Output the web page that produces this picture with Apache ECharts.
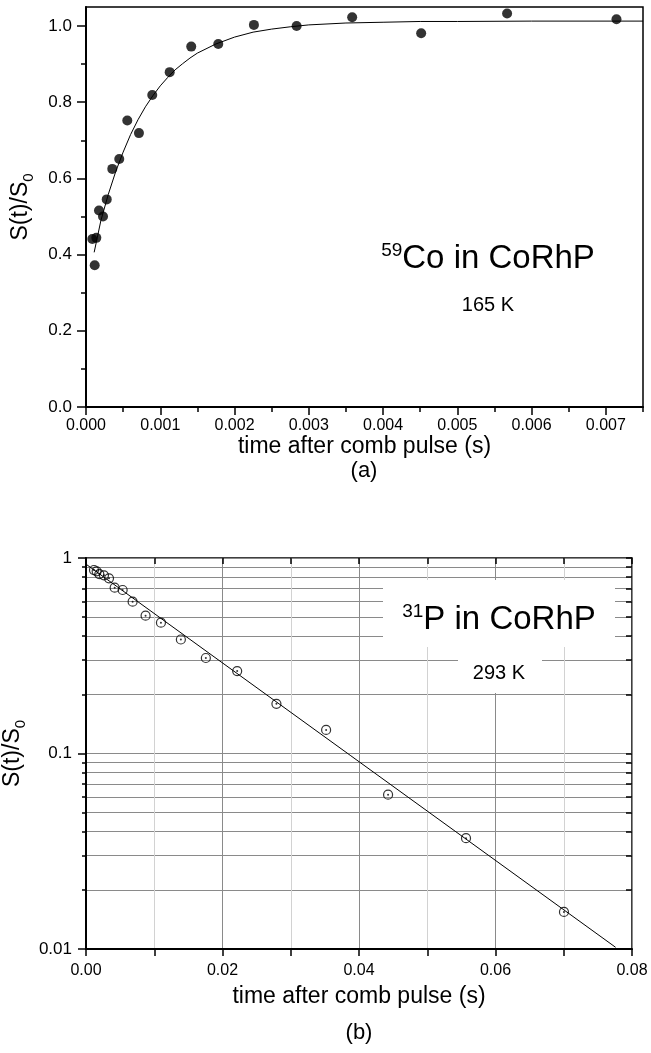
<!DOCTYPE html>
<html>
<head>
<meta charset="utf-8">
<script src="https://cdn.jsdelivr.net/npm/echarts@6/dist/echarts.min.js"></script>
<style>
  html, body { margin: 0; padding: 0; background: #fff; }
  #chart { width: 651px; height: 1053px; }
</style>
</head>
<body>
<div id="chart"></div>
<script>
// (a) 59Co in CoRhP, 165 K
const coTime = [0.000085, 0.000117, 0.000139, 0.000175, 0.000229, 0.000279, 0.000354, 0.000448, 0.000556, 0.000713,
  0.000892, 0.001127, 0.001417, 0.001781, 0.002261, 0.002836, 0.003584, 0.004513, 0.00567, 0.007143]
const coSignal = [0.441, 0.372, 0.444, 0.516, 0.500, 0.545, 0.625, 0.651, 0.752, 0.719,
  0.819, 0.879, 0.946, 0.953, 1.003, 1.000, 1.023, 0.981, 1.033, 1.018]
// fitted recovery curve
const coFitTime = [0.00011, 0.0002, 0.0003, 0.0004, 0.0005, 0.0006, 0.0007, 0.0008, 0.0009, 0.001,
  0.0011, 0.0012, 0.0013, 0.0014, 0.0015, 0.00175, 0.002, 0.00225, 0.0025, 0.00275,
  0.003, 0.0035, 0.004, 0.0045, 0.005, 0.006, 0.0075]
const coFitSignal = [0.406, 0.489, 0.558, 0.618, 0.669, 0.715, 0.754, 0.788, 0.817, 0.843,
  0.865, 0.885, 0.901, 0.916, 0.929, 0.953, 0.971, 0.984, 0.992, 0.998,
  1.003, 1.008, 1.010, 1.012, 1.012, 1.013, 1.013]

// (b) 31P in CoRhP, 293 K
const pTime = [0.00117, 0.00156, 0.00195, 0.00263, 0.00337, 0.0042, 0.00537, 0.00683, 0.00873, 0.01098,
  0.0139, 0.01756, 0.02215, 0.0279, 0.03518, 0.04426, 0.05568, 0.07003]
const pSignal = [0.868, 0.855, 0.828, 0.815, 0.787, 0.705, 0.686, 0.598, 0.507, 0.467,
  0.383, 0.308, 0.264, 0.1796, 0.132, 0.0616, 0.0369, 0.01547]
const pFitTime = [0, 0.0776]
const pFitSignal = [0.93, 0.0102]

// ticks
const coTimeTicks = [0, 0.001, 0.002, 0.003, 0.004, 0.005, 0.006, 0.007]
const coTimeMinor = [0.0005, 0.0015, 0.0025, 0.0035, 0.0045, 0.0055, 0.0065, 0.0075]
const coSignalTicks = [0, 0.2, 0.4, 0.6, 0.8, 1.0]
const coSignalMinor = [0.1, 0.3, 0.5, 0.7, 0.9]
const pTimeTicks = [0, 0.01, 0.02, 0.03, 0.04, 0.05, 0.06, 0.07, 0.08]
const pTimeLabels = [0, 0.02, 0.04, 0.06, 0.08]
const pSignalTicks = [0.01, 0.02, 0.03, 0.04, 0.05, 0.06, 0.07, 0.08, 0.09,
  0.1, 0.2, 0.3, 0.4, 0.5, 0.6, 0.7, 0.8, 0.9, 1]
const pSignalLabels = [0.01, 0.1, 1]

const FONT = '"Liberation Sans", Arial, sans-serif'
const zip = (xs, ys) => xs.map((x, i) => [x, ys[i]])

const blackLine = { show: true, onZero: false, lineStyle: { color: '#000', width: 2 } }
const noLine = { show: false, onZero: false }
const tickStyle = { color: '#000', width: 1.5 }
const yName = {
  name: '{n|S(t)/S}{s|0}',
  nameLocation: 'middle',
  nameRotate: 90,
  nameGap: 50,
  nameTextStyle: {
    color: '#000',
    fontFamily: FONT,
    rich: {
      n: { fontSize: 23, lineHeight: 30, fontFamily: FONT, color: '#000' },
      s: { fontSize: 15, lineHeight: 12, verticalAlign: 'bottom', fontFamily: FONT, color: '#000' },
    },
  },
}
const xName = (gap) => ({
  name: 'time after comb pulse (s)',
  nameLocation: 'middle',
  nameGap: gap,
  nameTextStyle: { fontSize: 23, color: '#000', fontFamily: FONT },
})

const annotationRich = {
  sup: { fontSize: 19, lineHeight: 24, verticalAlign: 'top', fontFamily: FONT, fill: '#000' },
  m: { fontSize: 33, lineHeight: 36, fontFamily: FONT, fill: '#000' },
}

const chart = echarts.init(document.getElementById('chart'))

chart.setOption({
  animation: false,
  backgroundColor: '#fff',
  grid: [
    { left: 86, top: 7, width: 557, height: 400, show: true, borderColor: '#000', borderWidth: 1.5, outerBoundsMode: 'none' },
    { left: 86, top: 558, width: 546, height: 391, show: true, borderColor: '#000', borderWidth: 1.5, outerBoundsMode: 'none' },
  ],
  xAxis: [
    {
      gridIndex: 0, type: 'value', position: 'bottom', min: 0, max: 0.0075,
      axisLine: blackLine,
      axisTick: { customValues: coTimeTicks, length: 8, lineStyle: tickStyle },
      axisLabel: { customValues: coTimeTicks, formatter: (v) => (+v).toFixed(3), margin: 11, fontSize: 16, color: '#000', fontFamily: FONT },
      splitLine: { show: false },
      ...xName(27),
    },
    {
      gridIndex: 0, type: 'value', position: 'bottom', min: 0, max: 0.0075,
      axisLine: noLine,
      axisTick: { customValues: coTimeMinor, length: 5, lineStyle: tickStyle },
      axisLabel: { show: false },
      splitLine: { show: false },
    },
    {
      gridIndex: 1, type: 'value', position: 'bottom', min: 0, max: 0.08,
      axisLine: blackLine,
      axisTick: { customValues: pTimeTicks, length: 7, lineStyle: tickStyle },
      axisLabel: { customValues: pTimeLabels, formatter: (v) => (+v).toFixed(2), margin: 14, fontSize: 16, color: '#000', fontFamily: FONT },
      splitLine: { show: true, lineStyle: { color: ['#8a8a8a', '#d2d2d2'], width: 1 } },
      ...xName(36),
    },
    {
      gridIndex: 1, type: 'value', position: 'top', min: 0, max: 0.08,
      axisLine: noLine,
      axisTick: { customValues: pTimeTicks, inside: true, length: 6, lineStyle: tickStyle },
      axisLabel: { show: false },
      splitLine: { show: false },
    },
  ],
  yAxis: [
    {
      gridIndex: 0, type: 'value', position: 'left', min: 0, max: 1.05,
      axisLine: blackLine,
      axisTick: { customValues: coSignalTicks, length: 9, lineStyle: tickStyle },
      axisLabel: { customValues: coSignalTicks, formatter: (v) => (+v).toFixed(1), margin: 14, fontSize: 17, color: '#000', fontFamily: FONT },
      splitLine: { show: false },
      ...yName,
    },
    {
      gridIndex: 0, type: 'value', position: 'left', min: 0, max: 1.05,
      axisLine: noLine,
      axisTick: { customValues: coSignalMinor, length: 5, lineStyle: tickStyle },
      axisLabel: { show: false },
      splitLine: { show: false },
    },
    {
      gridIndex: 1, type: 'log', logBase: 10, position: 'left', min: 0.01, max: 1,
      axisLine: blackLine,
      axisTick: { customValues: pSignalTicks, length: 4, lineStyle: tickStyle },
      axisLabel: { customValues: pSignalLabels, formatter: (v) => (+v).toPrecision(1), margin: 14, fontSize: 17, color: '#000', fontFamily: FONT },
      splitLine: { show: true, lineStyle: { color: '#8a8a8a', width: 1 } },
      ...yName,
    },
    {
      gridIndex: 1, type: 'log', logBase: 10, position: 'left', min: 0.01, max: 1,
      axisLine: noLine,
      axisTick: { customValues: pSignalLabels, length: 8, lineStyle: tickStyle },
      axisLabel: { show: false },
      splitLine: { show: false },
    },
    {
      gridIndex: 1, type: 'log', logBase: 10, position: 'right', min: 0.01, max: 1,
      axisLine: noLine,
      axisTick: { customValues: pSignalTicks, inside: true, length: 6, lineStyle: tickStyle },
      axisLabel: { show: false },
      splitLine: { show: false },
    },
  ],
  series: [
    {
      name: 'fit a', type: 'line', xAxisIndex: 0, yAxisIndex: 0,
      data: zip(coFitTime, coFitSignal),
      smooth: false, showSymbol: false,
      lineStyle: { color: '#000', width: 1 },
    },
    {
      name: '59Co', type: 'scatter', xAxisIndex: 0, yAxisIndex: 0,
      data: zip(coTime, coSignal),
      symbol: 'circle', symbolSize: 10,
      itemStyle: { color: '#000' },
    },
    {
      name: 'fit b', type: 'line', xAxisIndex: 2, yAxisIndex: 2,
      data: zip(pFitTime, pFitSignal),
      showSymbol: false,
      lineStyle: { color: '#000', width: 1 },
    },
    {
      name: '31P', type: 'scatter', xAxisIndex: 2, yAxisIndex: 2,
      data: zip(pTime, pSignal),
      symbol: 'circle', symbolSize: 9,
      itemStyle: { color: 'rgba(255,255,255,0)', borderColor: '#000', borderWidth: 1.2 },
    },
    {
      name: '31P dot', type: 'scatter', xAxisIndex: 2, yAxisIndex: 2,
      data: zip(pTime, pSignal),
      symbol: 'circle', symbolSize: 2,
      itemStyle: { color: '#000' },
    },
  ],
  graphic: [
    { type: 'rect', z: 50, shape: { x: 383, y: 580, width: 232, height: 67 }, style: { fill: '#fff' } },
    { type: 'rect', z: 50, shape: { x: 458, y: 647, width: 84, height: 46 }, style: { fill: '#fff' } },
    {
      type: 'text', z: 60, x: 488, y: 259,
      style: { text: '{sup|59}{m|Co in CoRhP}', rich: annotationRich, align: 'center', verticalAlign: 'middle' },
    },
    {
      type: 'text', z: 60, x: 488, y: 305,
      style: { text: '165 K', font: '20px ' + FONT, fill: '#000', align: 'center', verticalAlign: 'middle' },
    },
    {
      type: 'text', z: 60, x: 499, y: 620,
      style: { text: '{sup|31}{m|P in CoRhP}', rich: annotationRich, align: 'center', verticalAlign: 'middle' },
    },
    {
      type: 'text', z: 60, x: 499, y: 673,
      style: { text: '293 K', font: '20px ' + FONT, fill: '#000', align: 'center', verticalAlign: 'middle' },
    },
    {
      type: 'text', z: 60, x: 364, y: 471,
      style: { text: '(a)', font: '22px ' + FONT, fill: '#000', align: 'center', verticalAlign: 'middle' },
    },
    {
      type: 'text', z: 60, x: 359, y: 1033,
      style: { text: '(b)', font: '22px ' + FONT, fill: '#000', align: 'center', verticalAlign: 'middle' },
    },
  ],
})
</script>
</body>
</html>
